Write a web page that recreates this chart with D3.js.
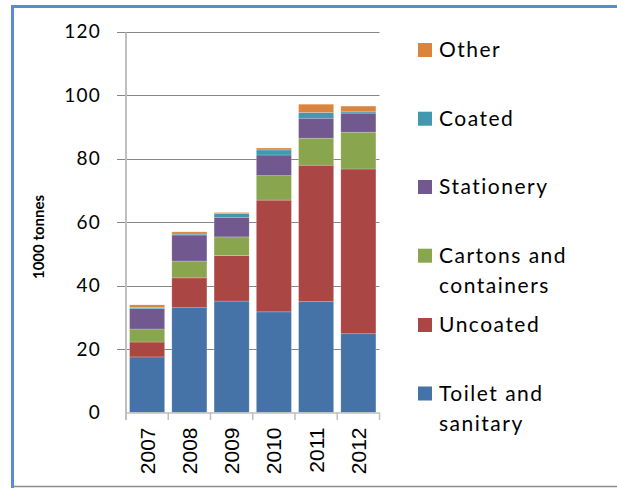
<!DOCTYPE html>
<html><head><meta charset="utf-8">
<script src="https://cdn.jsdelivr.net/npm/d3@7"></script>
<style>html,body{margin:0;padding:0;background:#fff;overflow:hidden}</style>
</head><body><svg id="c" width="617" height="488"></svg>
<script>
const years = ["2007","2008","2009","2010","2011","2012"];
const seriesNames = ["Toilet and sanitary","Uncoated","Cartons and containers","Stationery","Coated","Other"];
const toilet     = [17.5, 33.0, 35.1, 31.7, 34.9, 24.8];
const uncoated   = [4.7, 9.4, 14.3, 35.2, 43.0, 51.9];
const cartons    = [4.1, 5.3, 5.9, 7.7, 8.5, 11.6];
const stationery = [6.4, 8.2, 6.2, 6.5, 6.3, 6.0];
const coated     = [0.4, 0.3, 1.2, 1.6, 1.8, 0.4];
const other      = [0.8, 0.7, 0.3, 0.6, 2.6, 1.8];
const yTicks = [0, 20, 40, 60, 80, 100, 120];
const colors = ["#4572A7","#AA4643","#89A54E","#71588F","#4198AF","#DB843D"];
const legendLines = [["Toilet and","sanitary"],["Uncoated"],["Cartons and","containers"],["Stationery"],["Coated"],["Other"]];

const values = [toilet, uncoated, cartons, stationery, coated, other];
const table = years.map((yr,i)=>{const o={year:yr}; seriesNames.forEach((s,k)=>o[s]=values[k][i]); return o;});
const stacked = d3.stack().keys(seriesNames)(table);

const svg = d3.select("#c");
const pL = 126, pR = 379.5, pT = 31.5, pB = 412.5;
const x = d3.scaleBand().domain(years).range([pL, pR]).paddingInner(0.17).paddingOuter(0.085);
const y = d3.scaleLinear().domain([0,120]).range([pB, pT]);

svg.append("defs").append("clipPath").attr("id","clipb")
  .append("rect").attr("x",0).attr("y",0).attr("width",617).attr("height",476);

// frame
svg.append("line").attr("x1",11).attr("x2",617).attr("y1",486.5).attr("y2",486.5).attr("stroke","#8c8c8c").attr("stroke-width",1.5);
svg.append("line").attr("x1",11).attr("x2",617).attr("y1",6.5).attr("y2",6.5).attr("stroke","#5B8BD5").attr("stroke-width",3);
svg.append("line").attr("x1",12.5).attr("x2",12.5).attr("y1",5).attr("y2",488).attr("stroke","#5B8BD5").attr("stroke-width",3);

// gridlines
svg.append("g").selectAll("line").data(yTicks.filter(d=>d>0)).join("line")
  .attr("x1",117).attr("x2",pR).attr("y1",d=>Math.round(y(d))+0.5).attr("y2",d=>Math.round(y(d))+0.5)
  .attr("stroke","#868686").attr("stroke-width",1);

// y axis
const yAx = svg.append("g").attr("transform",`translate(${pL},0)`)
  .call(d3.axisLeft(y).tickValues(yTicks).tickSize(0).tickPadding(25));
yAx.select(".domain").remove();
yAx.selectAll("text").attr("font-family","Lato, 'Open Sans', sans-serif").attr("font-size",19)
  .attr("letter-spacing","1.2px").attr("fill","#000");

// bars
svg.append("g").selectAll("g").data(stacked).join("g").attr("fill",(d,i)=>colors[i])
  .selectAll("rect").data(d=>d).join("rect")
  .attr("x",d=>x(d.data.year)).attr("width",x.bandwidth())
  .attr("y",d=>y(d[1])).attr("height",d=>Math.max(0,y(d[0])-y(d[1])))
  .attr("stroke","rgba(255,255,255,0.35)").attr("stroke-width",0.6);

// axis lines
svg.append("line").attr("x1",pL).attr("x2",pL).attr("y1",pT+1).attr("y2",420).attr("stroke","#bfbfbf").attr("stroke-width",2);
svg.append("line").attr("x1",pL).attr("x2",pR).attr("y1",pB+0.5).attr("y2",pB+0.5).attr("stroke","#bfbfbf").attr("stroke-width",1.5);
svg.append("g").selectAll("line").data(d3.range(1, years.length+1)).join("line")
  .attr("x1",i=>pL+i*(pR-pL)/years.length).attr("x2",i=>pL+i*(pR-pL)/years.length)
  .attr("y1",pB).attr("y2",420).attr("stroke","#bfbfbf").attr("stroke-width",1.5);

// x labels
const xWrap = svg.append("g").attr("clip-path","url(#clipb)");
const xAx = xWrap.append("g").attr("transform",`translate(0,${pB})`)
  .call(d3.axisBottom(x).tickSize(0));
xAx.select(".domain").remove();
xAx.selectAll("text")
  .attr("font-family","'Liberation Sans', Arial, sans-serif").attr("font-size",21).attr("fill","#000")
  .attr("transform","rotate(-90)").attr("text-anchor","end").attr("dy","0.36em").attr("x",-15).attr("y",0);

// y title
svg.append("text").attr("transform","translate(44,237) rotate(-90)").attr("text-anchor","middle")
  .attr("font-family","Lato, 'Open Sans', sans-serif").attr("font-weight","bold").attr("font-size",15).attr("fill","#000")
  .text("1000 tonnes");

// legend
const legY = [393.5, 325, 255.7, 187, 118.7, 50];
const lg = svg.append("g").selectAll("g").data(seriesNames).join("g")
  .attr("transform",(d,i)=>`translate(418,${legY[i]})`);
lg.append("rect").attr("x",0).attr("y",-7).attr("width",14).attr("height",14).attr("fill",(d,i)=>colors[i]);
lg.append("text").attr("x",21).attr("y",0).attr("font-family","Lato, 'Open Sans', sans-serif").attr("font-size",21)
  .attr("letter-spacing","1.5px").attr("fill","#000")
  .selectAll("tspan").data((d,i)=>legendLines[i]).join("tspan")
  .attr("x",21).attr("dy",(d,j)=>j===0?"0.35em":"30px").text(d=>d);
</script></body></html>
